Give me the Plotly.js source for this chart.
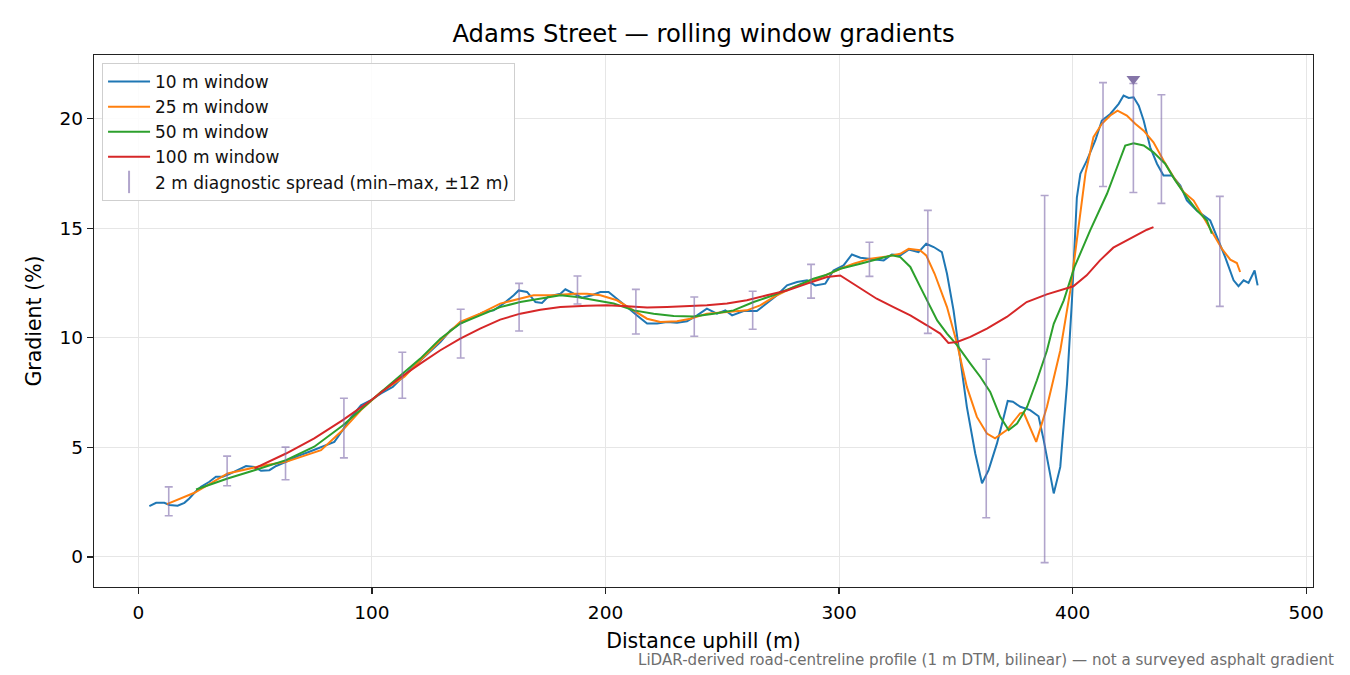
<!DOCTYPE html>
<html>
<head>
<meta charset="utf-8">
<script src="https://cdn.plot.ly/plotly-3.0.1.min.js"></script>
<style>
html,body{margin:0;padding:0;background:#fff}
#chart{width:1350px;height:675px}
</style>
</head>
<body>
<div id="chart"></div>
<script>

// values (distance m, gradient %)

let x10=[4.7,7.6,11.1,13.3,16.8,19.7,21.8,24.0,26.8,30.4,33.2,36.1,38.9,42.5,46.1,49.7,52.5,56.1,59.0,63.2,68.2,73.2,77.5,81.0,83.9,87.5,91.0,95.3,99.6,103.9,108.9,113.9,120.7,129.3,133.6,137.8,142.1,147.8,152.1,156.4,160.7,162.8,166.4,170.0,172.8,175.6,180.7,182.8,186.4,189.9,194.2,197.8,201.3,204.9,209.2,213.5,217.8,222.1,226.3,230.6,234.9,239.2,243.4,247.7,251.3,254.2,259.1,264.8,269.1,273.4,277.7,282.0,286.3,289.8,294.1,297.6,301.9,305.5,309.1,313.4,319.1,322.6,326.2,329.8,334.0,337.3,340.5,344.0,346.2,349.0,351.9,354.7,358.3,361.2,364.0,367.6,370.5,372.2,374.4,377.6,381.8,385.4,387.6,391.9,394.7,397.6,399.7,401.8,403.3,406.1,409.7,412.5,416.1,419.7,421.8,424.0,426.1,428.3,430.4,433.2,436.1,438.9,442.5,446.1,448.9,453.2,458.9,461.8,465.3,468.9,471.0,473.2,475.3,477.9,479.2]
let y10=[2.32,2.47,2.47,2.37,2.34,2.47,2.67,2.93,3.20,3.43,3.66,3.66,3.78,3.96,4.15,4.11,3.93,3.96,4.15,4.34,4.60,4.80,4.98,5.10,5.25,5.79,6.36,6.92,7.15,7.46,7.76,8.29,8.97,9.81,10.34,10.65,10.87,11.17,11.25,11.56,11.94,12.16,12.09,11.63,11.59,11.89,12.01,12.21,12.01,11.83,11.94,12.09,12.09,11.79,11.40,11.02,10.65,10.65,10.72,10.69,10.75,11.02,11.33,11.10,11.25,11.02,11.22,11.22,11.56,11.94,12.39,12.54,12.62,12.39,12.47,13.07,13.30,13.80,13.65,13.61,13.53,13.80,13.76,14.02,13.91,14.29,14.14,13.91,12.92,11.25,8.97,6.85,4.72,3.36,3.96,5.18,6.39,7.12,7.08,6.85,6.70,6.42,5.33,2.90,4.11,7.91,11.71,16.40,17.48,18.09,19.00,19.91,20.21,20.67,21.05,20.94,20.97,20.59,19.91,18.69,17.94,17.40,17.40,16.95,16.26,15.80,15.35,14.59,13.68,12.62,12.35,12.62,12.50,13.07,12.39]

let x25=[12.2,24.0,38.2,52.5,63.2,78.2,87.5,95.3,103.9,113.9,120.7,129.3,137.8,146.3,154.9,163.5,169.2,177.8,186.4,192.1,197.8,204.9,212.1,217.8,223.5,230.6,236.3,243.4,252.0,260.5,266.2,273.4,280.5,289.0,296.1,300.5,306.2,313.4,320.5,326.2,329.8,334.6,337.3,340.9,346.2,350.5,354.7,359.0,363.3,366.8,371.8,377.5,379.0,384.4,389.0,394.7,399.0,402.5,405.5,408.9,412.5,416.1,419.2,423.2,426.8,430.4,434.6,438.9,443.2,447.5,451.8,456.0,460.3,463.9,467.5,470.3,471.7]
let y25=[2.41,2.93,3.81,4.15,4.34,4.87,5.79,6.70,7.53,8.22,8.97,9.89,10.73,11.10,11.56,11.79,11.94,11.94,12.01,12.01,11.94,11.71,11.25,10.87,10.72,10.75,10.87,11.10,11.17,11.25,11.48,11.94,12.31,12.62,12.93,13.15,13.38,13.61,13.71,13.83,14.06,13.99,13.76,12.92,11.40,9.74,7.76,6.39,5.63,5.41,5.79,6.55,6.59,5.25,6.85,9.42,12.16,15.00,17.50,19.15,19.76,20.14,20.36,20.14,19.76,19.45,18.92,18.09,17.33,16.65,16.26,15.50,14.75,14.06,13.56,13.41,13.00]

let x50=[24.7,38.2,49.7,63.2,75.3,87.5,98.2,109.6,120.7,129.3,137.8,146.3,154.9,163.5,172.1,180.7,187.8,194.9,203.5,212.1,220.6,229.2,237.7,246.3,254.8,263.4,271.9,280.5,289.0,294.0,300.5,309.1,317.6,322.6,326.2,330.5,334.8,339.1,342.0,346.2,350.5,356.2,360.5,364.7,369.0,372.6,376.2,380.5,384.7,389.0,391.9,396.2,400.8,407.5,414.7,419.0,422.5,426.1,430.4,434.6,439.6,443.9,448.9,453.2,457.5,459.6]
let y50=[3.08,3.58,3.96,4.42,5.03,6.00,7.00,8.06,9.05,9.96,10.65,11.02,11.40,11.63,11.79,11.94,11.86,11.71,11.56,11.25,11.10,10.99,10.97,11.10,11.25,11.63,11.94,12.31,12.69,12.85,13.15,13.38,13.61,13.76,13.68,13.23,12.31,11.40,10.79,10.19,9.66,8.82,8.21,7.53,6.39,5.79,6.09,6.85,8.06,9.42,10.64,11.71,13.23,14.90,16.57,17.78,18.77,18.87,18.77,18.46,17.94,17.18,16.41,15.81,15.35,14.75]

let x100=[49.7,63.2,75.3,87.5,99.6,112.5,120.7,129.3,137.8,146.3,154.9,163.5,172.1,180.7,192.1,200.6,209.2,217.8,226.3,234.9,243.4,252.0,260.5,269.1,277.7,286.3,294.8,300.5,303.3,310.4,316.1,323.3,330.5,337.6,343.3,346.8,350.5,356.2,363.3,371.8,380.3,388.9,394.6,400.3,406.0,411.7,417.4,421.8,427.5,431.8,434.6]
let y100=[4.04,4.72,5.41,6.24,7.15,8.21,8.82,9.43,9.96,10.42,10.83,11.10,11.28,11.40,11.46,11.48,11.44,11.38,11.40,11.44,11.48,11.56,11.71,11.94,12.16,12.47,12.77,12.84,12.65,12.16,11.78,11.40,11.02,10.57,10.19,9.76,9.81,10.04,10.42,10.95,11.63,11.98,12.15,12.35,12.85,13.53,14.11,14.37,14.67,14.93,15.05]

// 2 m diagnostic spread, min and max inside +-12 m
let spreadX=[13,38,63,88,113,138,163,188,213,238,263,288,313,338,363,388,413,426,438,463]
let spreadLow=[1.88,3.25,3.52,4.52,7.24,9.08,10.31,11.54,10.17,10.07,10.39,11.81,12.80,10.20,1.79,-0.26,16.90,16.63,16.13,11.43]
let spreadHigh=[3.20,4.60,5.01,7.24,9.34,11.30,12.48,12.82,12.21,11.86,12.12,13.35,14.36,15.81,9.02,16.49,21.64,21.60,21.09,16.45]

let peakX=[426]
let peakY=[21.8]

let names=["10 m window","25 m window","50 m window","100 m window"]
let colors=["#1f77b4","#ff7f0e","#2ca02c","#d62728"]
let spreadColor="rgba(125,105,170,0.6)"

let series=[[x10,y10],[x25,y25],[x50,y50],[x100,y100]]

let traces=series.map((s,i)=>({
x:s[0],
y:s[1],
type:"scatter",
mode:"lines",
name:names[i],
line:{color:colors[i],width:2},
hoverinfo:"skip"
}))

traces.push({
x:spreadX,
y:spreadLow,
type:"scatter",
mode:"markers",
marker:{size:1,opacity:0},
showlegend:false,
hoverinfo:"skip",
error_y:{
type:"data",
symmetric:false,
array:spreadHigh.map((h,i)=>h-spreadLow[i]),
arrayminus:spreadX.map(()=>0),
color:spreadColor,
thickness:1.6,
width:4
}
})

// legend entry only
traces.push({
x:[null],
y:[null],
type:"scatter",
mode:"markers",
name:"2 m diagnostic spread (min–max, ±12 m)",
marker:{symbol:"line-ns-open",size:16,color:spreadColor,line:{color:spreadColor,width:2}}
})

traces.push({
x:peakX,
y:peakY,
type:"scatter",
mode:"markers",
showlegend:false,
hoverinfo:"skip",
marker:{symbol:"triangle-down",size:12,color:"#8575a8"}
})

let axisBase={
showline:true,
linecolor:"#222",
linewidth:1.2,
mirror:true,
ticks:"outside",
ticklen:6,
tickwidth:1.2,
tickcolor:"#222",
showgrid:true,
gridcolor:"#e6e6e6",
gridwidth:1,
zeroline:false,
tickfont:{size:18.5,color:"#000"}
}

let layout={
width:1350,
height:675,
margin:{l:94,r:37,t:55,b:88},
paper_bgcolor:"#fff",
plot_bgcolor:"#fff",
font:{family:"DejaVu Sans, sans-serif",color:"#000"},
title:{
text:"Adams Street — rolling window gradients",
font:{size:24.3,color:"#000"},
x:0.5,
xref:"paper",
y:1-33/675,
yanchor:"middle"
},
xaxis:Object.assign({},axisBase,{
range:[-19.0,502.9],
tickvals:[0,100,200,300,400,500],
ticklabelstandoff:3,
title:{text:"Distance uphill (m)",font:{size:20.5},standoff:11}
}),
yaxis:Object.assign({},axisBase,{
range:[-1.37,22.9],
tickvals:[0,5,10,15,20],
title:{text:"Gradient (%)",font:{size:20.5},standoff:12}
}),
legend:{
x:0.0066,
y:0.985,
xanchor:"left",
yanchor:"top",
bgcolor:"rgba(255,255,255,0.85)",
bordercolor:"#cfcfcf",
borderwidth:1,
itemwidth:42,
font:{size:17,color:"#111"}
},
annotations:[{
text:"LiDAR-derived road-centreline profile (1 m DTM, bilinear) — not a surveyed asphalt gradient",
xref:"paper",
yref:"paper",
x:(1336-94)/1219,
y:(587-660)/532,
xanchor:"right",
yanchor:"middle",
showarrow:false,
font:{size:15.1,color:"#6e6e6e"}
}],
showlegend:true
}

Plotly.newPlot("chart",traces,layout,{displayModeBar:false,staticPlot:true})

</script>
</body>
</html>
